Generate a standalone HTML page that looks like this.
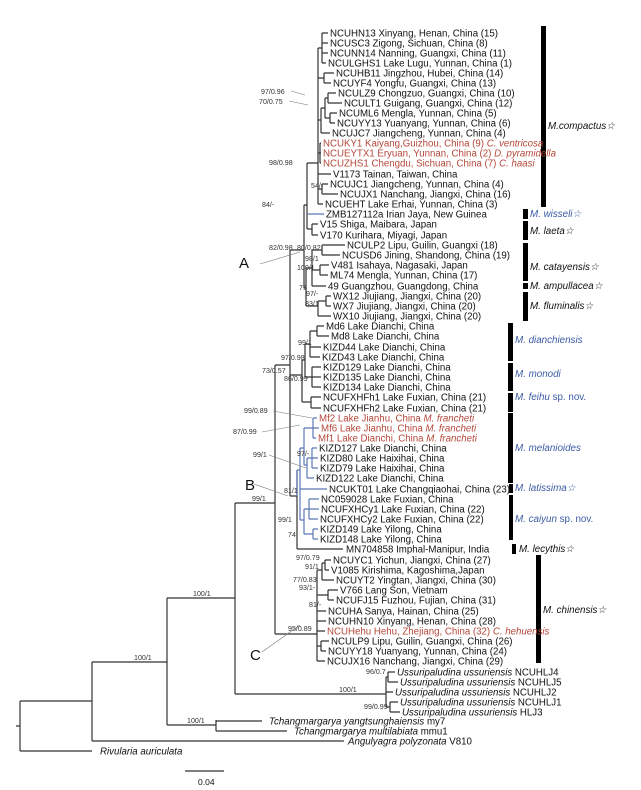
<!DOCTYPE html>
<html><head><meta charset="utf-8"><style>
html,body{margin:0;padding:0;background:#fff;}
svg{display:block;}
.l{font-family:"Liberation Sans",Arial,sans-serif;font-size:9.7px;fill:#111;}
.r{fill:#b5473a;}
.s{font-family:"Liberation Sans",Arial,sans-serif;font-size:7.1px;fill:#333;}
.c{font-family:"Liberation Sans",Arial,sans-serif;font-size:9.8px;font-style:italic;fill:#111;}
.b{fill:#3b5ba5;}
.big{font-family:"Liberation Sans",Arial,sans-serif;font-size:15px;fill:#111;}
</style></head><body>
<svg width="641" height="790" viewBox="0 0 641 790" xmlns="http://www.w3.org/2000/svg">
<g stroke="#333" stroke-width="1.2" fill="none">
<path d="M16 726H20M20 701V751M20 751H92M20 701H92"/>
<path d="M92 662V741M92 741H344M92 662H167"/>
<path d="M167 598V725M167 725H216M216 720V731M216 721H262M216 731H287"/>
<path d="M167 598H235M235 503V694M235 694H386"/>
<path d="M386 677V707M386 677H388M388 672V682M388 672H395M388 682H398M386 692H393M386 707H390M390 702V712M390 702H398M390 712H400"/>
<path d="M235 503H275M275 365V634M275 365H290M290 250V496"/>
<path d="M290 250H304M304 205V288M304 205H307M307 163V229M307 163H318M307 229H312M312 224V235M312 224H318M312 235H318"/>
<path d="M318 48V204M318 48H322M322 33V63M322 33H328M322 43H328M322 53H328M322 63H326"/>
<path d="M318 78H324M324 73V83M324 73H334M324 83H331"/>
<path d="M318 120H321M321 108V133M321 133H330M321 108H325M325 98V118M325 98H328M328 93V103M328 93H336M328 103H342M325 118H330M330 113V123M330 113H337M330 123H335"/>
<path d="M318 153H320M320 143V163M320 143H321M320 153H321M320 163H321M318 174H331M318 189H322M322 184V194M322 184H328M322 194H338M318 204H323"/>
<path d="M304 288H306M306 268V306M306 268H312M312 250V286M312 250H322M322 245V255M322 245H345M322 255H340M312 270H320M320 265V275M320 265H329M320 275H328M312 286H326"/>
<path d="M306 306H318M318 301V316M318 301H326M326 296V306M326 296H331M326 306H331M318 316H331"/>
<path d="M290 375H302M302 360V402M302 360H305M305 344V377M305 344H310M310 331V357M310 331H317M317 326V336M317 326H324M317 336H329M310 347H321M310 357H320"/>
<path d="M305 377H312M312 367V387M312 367H321M312 377H321M312 387H321M302 402H311M311 397V408M311 397H321M311 408H321"/>
<path d="M290 496H297M297 470V549M297 549H343"/>
<path d="M275 634H317M317 570V661M317 570H322M322 563V580M322 563H325M325 560V570M325 560H331M325 570H329M322 580H334M317 595H328M328 590V600M328 590H338M328 600H334M317 611H326M317 621H326M317 631H325M317 646H321M321 641V651M321 641H329M321 651H326M317 661H325"/>
</g>
<g stroke="#5a78b5" stroke-width="1.2" fill="none">
<path d="M307 214H324M297 470V496M297 470H300M300 448V520M300 448H304M304 428V465M304 428H313M313 418V438M313 418H317M313 428H319M313 438H316M304 465H307M307 458V478M307 458H312M312 448V468M312 448H317M312 458H318M312 468H318M307 478H314"/>
<path d="M300 489H327M300 520H304M304 509V534M304 509H309M309 499V519M309 499H319M309 509H319M309 519H318M304 534H313M313 529V539M313 529H318M313 539H318"/>
</g>
<g stroke="#777" stroke-width="0.6" fill="none">
<path d="M291 91L305 95M289 101L308 105M262 652L300 625M254 484L288 496M273 411L312 418M262 432L300 425M269 455L306 468M260 264L300 252"/>
</g>
<path d="M185 771H224" stroke="#333" stroke-width="1.2"/>
<g fill="#000">
<rect x="541" y="26" width="5" height="181"/>
<rect x="523" y="209" width="5" height="10"/>
<rect x="523" y="221" width="5" height="19"/>
<rect x="523" y="243" width="5" height="38"/>
<rect x="523" y="283" width="5" height="6"/>
<rect x="523" y="292" width="5" height="29"/>
<rect x="508" y="323" width="5" height="38"/>
<rect x="508" y="363" width="5" height="28"/>
<rect x="508" y="393" width="5" height="19"/>
<rect x="508" y="413" width="5" height="70"/>
<rect x="509" y="484" width="4" height="9"/>
<rect x="509" y="495" width="4" height="45"/>
<rect x="512" y="544" width="4" height="10"/>
<rect x="536" y="555" width="5" height="108"/>
</g>
<g class="l">
<text x="330" y="36.5">NCUHN13 Xinyang, Henan, China (15)</text>
<text x="330" y="46.5">NCUSC3 Zigong, Sichuan, China (8)</text>
<text x="330" y="56.5">NCUNN14 Nanning, Guangxi, China (11)</text>
<text x="328" y="66.5">NCULGHS1 Lake Lugu, Yunnan, China (1)</text>
<text x="336" y="76.5">NCUHB11 Jingzhou, Hubei, China (14)</text>
<text x="333" y="86.5">NCUYF4 Yongfu, Guangxi, China (13)</text>
<text x="338" y="96.5">NCULZ9 Chongzuo, Guangxi, China (10)</text>
<text x="344" y="106.5">NCULT1 Guigang, Guangxi, China (12)</text>
<text x="339" y="116.5">NCUML6 Mengla, Yunnan, China (5)</text>
<text x="337" y="126.5">NCUYY13 Yuanyang, Yunnan, China (6)</text>
<text x="332" y="136.5">NCUJC7 Jiangcheng, Yunnan, China (4)</text>
<text x="323" y="146.5" class="r">NCUKY1 Kaiyang,Guizhou, China (9) <tspan font-style="italic">C. ventricosa</tspan></text>
<text x="323" y="156.5" class="r">NCUEYTX1 Eryuan, Yunnan, China (2) <tspan font-style="italic">D. pyramidella</tspan></text>
<text x="323" y="166.5" class="r">NCUZHS1 Chengdu, Sichuan, China (7) <tspan font-style="italic">C. haasi</tspan></text>
<text x="333" y="177.5">V1173 Tainan, Taiwan, China</text>
<text x="330" y="187.5">NCUJC1 Jiangcheng, Yunnan, China (4)</text>
<text x="340" y="197.5">NCUJX1 Nanchang, Jiangxi, China (16)</text>
<text x="325" y="207.5">NCUEHT Lake Erhai, Yunnan, China (3)</text>
<text x="326" y="217.5">ZMB127112a Irian Jaya, New Guinea</text>
<text x="320" y="227.5">V15 Shiga, Maibara, Japan</text>
<text x="320" y="238.5">V170 Kurihara, Miyagi, Japan</text>
<text x="347" y="248.5">NCULP2 Lipu, Guilin, Guangxi (18)</text>
<text x="342" y="258.5">NCUSD6 Jining, Shandong, China (19)</text>
<text x="331" y="268.5">V481 Isahaya, Nagasaki, Japan</text>
<text x="330" y="278.5">ML74 Mengla, Yunnan, China (17)</text>
<text x="328" y="289.5">49 Guangzhou, Guangdong, China</text>
<text x="333" y="299.5">WX12 Jiujiang, Jiangxi, China (20)</text>
<text x="333" y="309.5">WX7 Jiujiang, Jiangxi, China (20)</text>
<text x="333" y="319.5">WX10 Jiujiang, Jiangxi, China (20)</text>
<text x="326" y="329.5">Md6 Lake Dianchi, China</text>
<text x="331" y="339.5">Md8 Lake Dianchi, China</text>
<text x="323" y="350.5">KIZD44 Lake Dianchi, China</text>
<text x="322" y="360.5">KIZD43 Lake Dianchi, China</text>
<text x="323" y="370.5">KIZD129 Lake Dianchi, China</text>
<text x="323" y="380.5">KIZD135 Lake Dianchi, China</text>
<text x="323" y="390.5">KIZD134 Lake Dianchi, China</text>
<text x="323" y="400.5">NCUFXHFh1 Lake Fuxian, China (21)</text>
<text x="323" y="411.5">NCUFXHFh2 Lake Fuxian, China (21)</text>
<text x="319" y="421.5" class="r">Mf2 Lake Jianhu, China  <tspan font-style="italic">M. francheti</tspan></text>
<text x="321" y="431.5" class="r">Mf6 Lake Jianhu, China  <tspan font-style="italic">M. francheti</tspan></text>
<text x="318" y="441.5" class="r">Mf1 Lake Dianchi, China  <tspan font-style="italic">M. francheti</tspan></text>
<text x="319" y="451.5">KIZD127 Lake Dianchi, China</text>
<text x="320" y="461.5">KIZD80 Lake Haixihai, China</text>
<text x="320" y="471.5">KIZD79 Lake Haixihai, China</text>
<text x="316" y="481.5">KIZD122 Lake Dianchi, China</text>
<text x="329" y="492.5">NCUKT01 Lake Changqiaohai, China (23)</text>
<text x="321" y="502.5">NC059028 Lake Fuxian, China</text>
<text x="321" y="512.5">NCUFXHCy1 Lake Fuxian, China (22)</text>
<text x="320" y="522.5">NCUFXHCy2 Lake Fuxian, China (22)</text>
<text x="320" y="532.5">KIZD149 Lake Yilong, China</text>
<text x="320" y="542.5">KIZD148 Lake Yilong, China</text>
<text x="346" y="552.5">MN704858 Imphal-Manipur, India</text>
<text x="333" y="563.5">NCUYC1 Yichun, Jiangxi, China (27)</text>
<text x="331" y="573.5">V1085 Kirishima, Kagoshima,Japan</text>
<text x="336" y="583.5">NCUYT2 Yingtan, Jiangxi, China (30)</text>
<text x="340" y="593.5">V766 Lang Son, Vietnam</text>
<text x="336" y="603.5">NCUFJ15 Fuzhou, Fujian, China (31)</text>
<text x="328" y="614.5">NCUHA Sanya, Hainan, China (25)</text>
<text x="328" y="624.5">NCUHN10 Xinyang, Henan, China (28)</text>
<text x="327" y="634.5" class="r">NCUHehu Hehu, Zhejiang, China (32) <tspan font-style="italic">C. hehuensis</tspan></text>
<text x="331" y="644.5">NCULP9 Lipu, Guilin, Guangxi, China (26)</text>
<text x="328" y="654.5">NCUYY18 Yuanyang, Yunnan, China (24)</text>
<text x="327" y="664.5">NCUJX16 Nanchang, Jiangxi, China (29)</text>
<text x="397" y="675.5"><tspan font-style="italic">Ussuripaludina ussuriensis</tspan> NCUHLJ4</text>
<text x="400" y="685.5"><tspan font-style="italic">Ussuripaludina ussuriensis</tspan> NCUHLJ5</text>
<text x="395" y="695.5"><tspan font-style="italic">Ussuripaludina ussuriensis</tspan> NCUHLJ2</text>
<text x="400" y="705.5"><tspan font-style="italic">Ussuripaludina ussuriensis</tspan> NCUHLJ1</text>
<text x="402" y="715.5"><tspan font-style="italic">Ussuripaludina ussuriensis</tspan> HLJ3</text>
<text x="269" y="724.5"><tspan font-style="italic">Tchangmargarya yangtsunghaiensis</tspan> my7</text>
<text x="294" y="734.5"><tspan font-style="italic">Tchangmargarya multilabiata</tspan> mmu1</text>
<text x="348" y="744.5"><tspan font-style="italic">Angulyagra polyzonata</tspan> V810</text>
<text x="100" y="754.5" font-style="italic">Rivularia auriculata</text>
<text x="198" y="785" font-size="8.5">0.04</text>
</g>
<g class="s">
<text x="261" y="94">97/0.96</text>
<text x="259" y="104">70/0.75</text>
<text x="269" y="165">98/0.98</text>
<text x="311" y="188">54/-</text>
<text x="262" y="207">84/-</text>
<text x="269" y="250">82/0.98</text>
<text x="297" y="250">80/0.82</text>
<text x="305" y="261">98/1</text>
<text x="297" y="270">100/1</text>
<text x="299" y="290">75</text>
<text x="306" y="296">97/-</text>
<text x="305" y="306">83/1</text>
<text x="298" y="345">99/1</text>
<text x="281" y="360">97/0.98</text>
<text x="262" y="373">73/0.57</text>
<text x="284" y="381">86/0.99</text>
<text x="244" y="413">99/0.89</text>
<text x="233" y="434">87/0.99</text>
<text x="253" y="457">99/1</text>
<text x="297" y="456">97/-</text>
<text x="284" y="493">81/1</text>
<text x="252" y="501">99/1</text>
<text x="278" y="522">99/1</text>
<text x="288" y="537">74</text>
<text x="296" y="560">97/0.79</text>
<text x="305" y="569">91/1</text>
<text x="293" y="582">77/0.83</text>
<text x="299" y="590">93/1-</text>
<text x="309" y="607">81/-</text>
<text x="288" y="631">95/0.89</text>
<text x="366" y="674">96/0.7</text>
<text x="339" y="692">100/1</text>
<text x="364" y="709">99/0.99</text>
<text x="187" y="723">100/1</text>
<text x="134" y="660">100/1</text>
<text x="193" y="596">100/1</text>
</g>
<text x="239" y="268" class="big">A</text>
<text x="245" y="490" class="big">B</text>
<text x="250" y="660" class="big">C</text>
<g class="c">
<text x="548" y="129">M.compactus☆</text>
<text x="530" y="217" class="b">M. wisseli☆</text>
<text x="530" y="234">M. laeta☆</text>
<text x="530" y="270">M. catayensis☆</text>
<text x="530" y="289">M. ampullacea☆</text>
<text x="530" y="309">M. fluminalis☆</text>
<text x="515" y="343" class="b">M. dianchiensis</text>
<text x="515" y="377" class="b">M. monodi</text>
<text x="515" y="400" class="b">M. feihu <tspan font-style="normal">sp. nov.</tspan></text>
<text x="515" y="451" class="b">M. melanioides</text>
<text x="515" y="491" class="b">M. latissima☆</text>
<text x="515" y="522" class="b">M. caiyun <tspan font-style="normal">sp. nov.</tspan></text>
<text x="519" y="552">M. lecythis☆</text>
<text x="543" y="613">M. chinensis☆</text>
</g>
</svg>
</body></html>
